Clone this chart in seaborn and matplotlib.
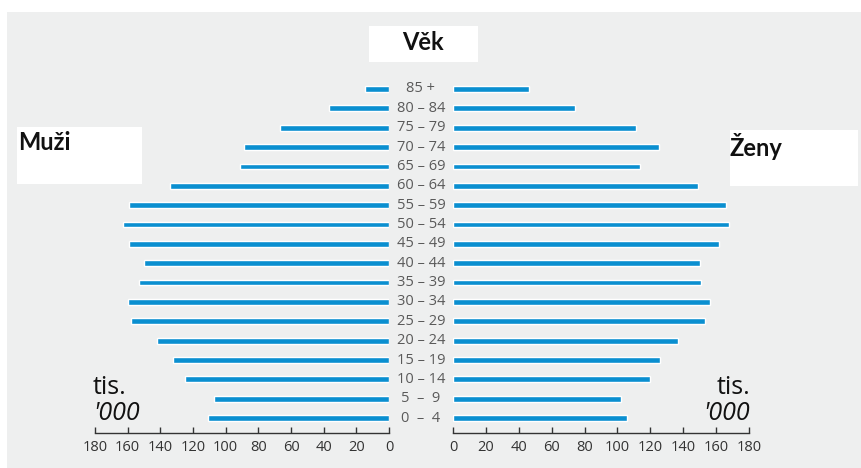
import seaborn as sns
import matplotlib.pyplot as plt
import matplotlib.transforms as mtransforms
from matplotlib.patches import Rectangle
import pandas as pd

ages = ["85 +", "80 – 84", "75 – 79", "70 – 74", "65 – 69", "60 – 64", "55 – 59",
        "50 – 54", "45 – 49", "40 – 44", "35 – 39", "30 – 34", "25 – 29",
        "20 – 24", "15 – 19", "10 – 14", "5  –  9", "0  –  4"]
muzi = [15, 37, 67, 89, 91, 134, 159, 163, 159, 150, 153, 160, 158, 142, 132, 125, 107, 111]
zeny = [46, 74, 111, 125, 114, 149, 166, 168, 162, 150, 151, 156, 153, 137, 126, 120, 102, 106]
ticks = [0, 20, 40, 60, 80, 100, 120, 140, 160, 180]

df = pd.DataFrame({"vek": ages, "muzi": muzi, "zeny": zeny})

sns.set_style("white")
plt.rcParams["font.family"] = ["Open Sans", "DejaVu Sans"]

W, H = 861, 468
fig = plt.figure(figsize=(W / 100, H / 100), dpi=100)
fig.patch.set_facecolor("white")
fig.patches.append(Rectangle((7 / W, 0), 1 - 7 / W, 1 - 12 / H, transform=fig.transFigure,
                             facecolor="#eeefef", edgecolor="none", zorder=-5))

bottom = 1 - 433 / H
height = (433 - 79.3) / H
ax_l = fig.add_axes([95 / W, bottom, 294 / W, height])
ax_r = fig.add_axes([453 / W, bottom, 296 / W, height])

blue = "#0a8fd0"
for ax, col in [(ax_l, "muzi"), (ax_r, "zeny")]:
    ax.patch.set_alpha(0)
    sns.barplot(data=df, y="vek", x=col, orient="h", color=blue, width=0.3,
                edgecolor="white", linewidth=1.0, saturation=1, ax=ax)
    ax.set_xlim(0, 180)
    ax.set_ylim(17.77, -0.5)
    ax.set_xticks(ticks)
    ax.set_xticklabels([str(t) for t in ticks], fontsize=10.5, color="#333333")
    ax.tick_params(axis="x", bottom=True, direction="in", length=4, width=1,
                   color="#333333", pad=5)
    ax.set_yticks([])
    ax.set_xlabel("")
    ax.set_ylabel("")
    for s in ["top", "left", "right"]:
        ax.spines[s].set_visible(False)
    ax.spines["bottom"].set_color("#333333")
    ax.spines["bottom"].set_linewidth(1)

ax_l.set_xlim(180, 0)

# popisky vekovych skupin mezi obema stranami
trans = mtransforms.blended_transform_factory(fig.transFigure, ax_l.transData)
for i, a in enumerate(ages):
    fig.text(421 / W, i, a, transform=trans, ha="center", va="center",
             fontsize=10.5, color="#5a5a5a")

# bile rameccky s nadpisy
for x0, y0, x1, y1 in [(369, 26, 478, 62), (17, 127, 142, 184), (730, 130, 858, 186)]:
    fig.patches.append(Rectangle((x0 / W, 1 - y1 / H), (x1 - x0) / W, (y1 - y0) / H,
                                 transform=fig.transFigure, facecolor="white",
                                 edgecolor="none", zorder=1))

head = dict(family=["Lato", "DejaVu Sans"], fontweight="bold", color="#111111", zorder=2)
fig.text(423 / W, 1 - 43 / H, "Věk", ha="center", va="center", fontsize=17, **head)
fig.text(18 / W, 1 - 143 / H, "Muži", ha="left", va="center", fontsize=17, **head)
fig.text(730 / W, 1 - 147 / H, "Ženy", ha="left", va="center", fontsize=17, **head)

fig.text(93 / W, 1 - 388 / H, "tis.", ha="left", va="center", fontsize=18, color="#111111")
fig.text(93 / W, 1 - 413 / H, "'000", ha="left", va="center", fontsize=18,
         style="italic", color="#111111")
fig.text(750 / W, 1 - 388 / H, "tis.", ha="right", va="center", fontsize=18, color="#111111")
fig.text(750 / W, 1 - 413 / H, "'000", ha="right", va="center", fontsize=18,
         style="italic", color="#111111")

fig.savefig("out.png", dpi=100)
